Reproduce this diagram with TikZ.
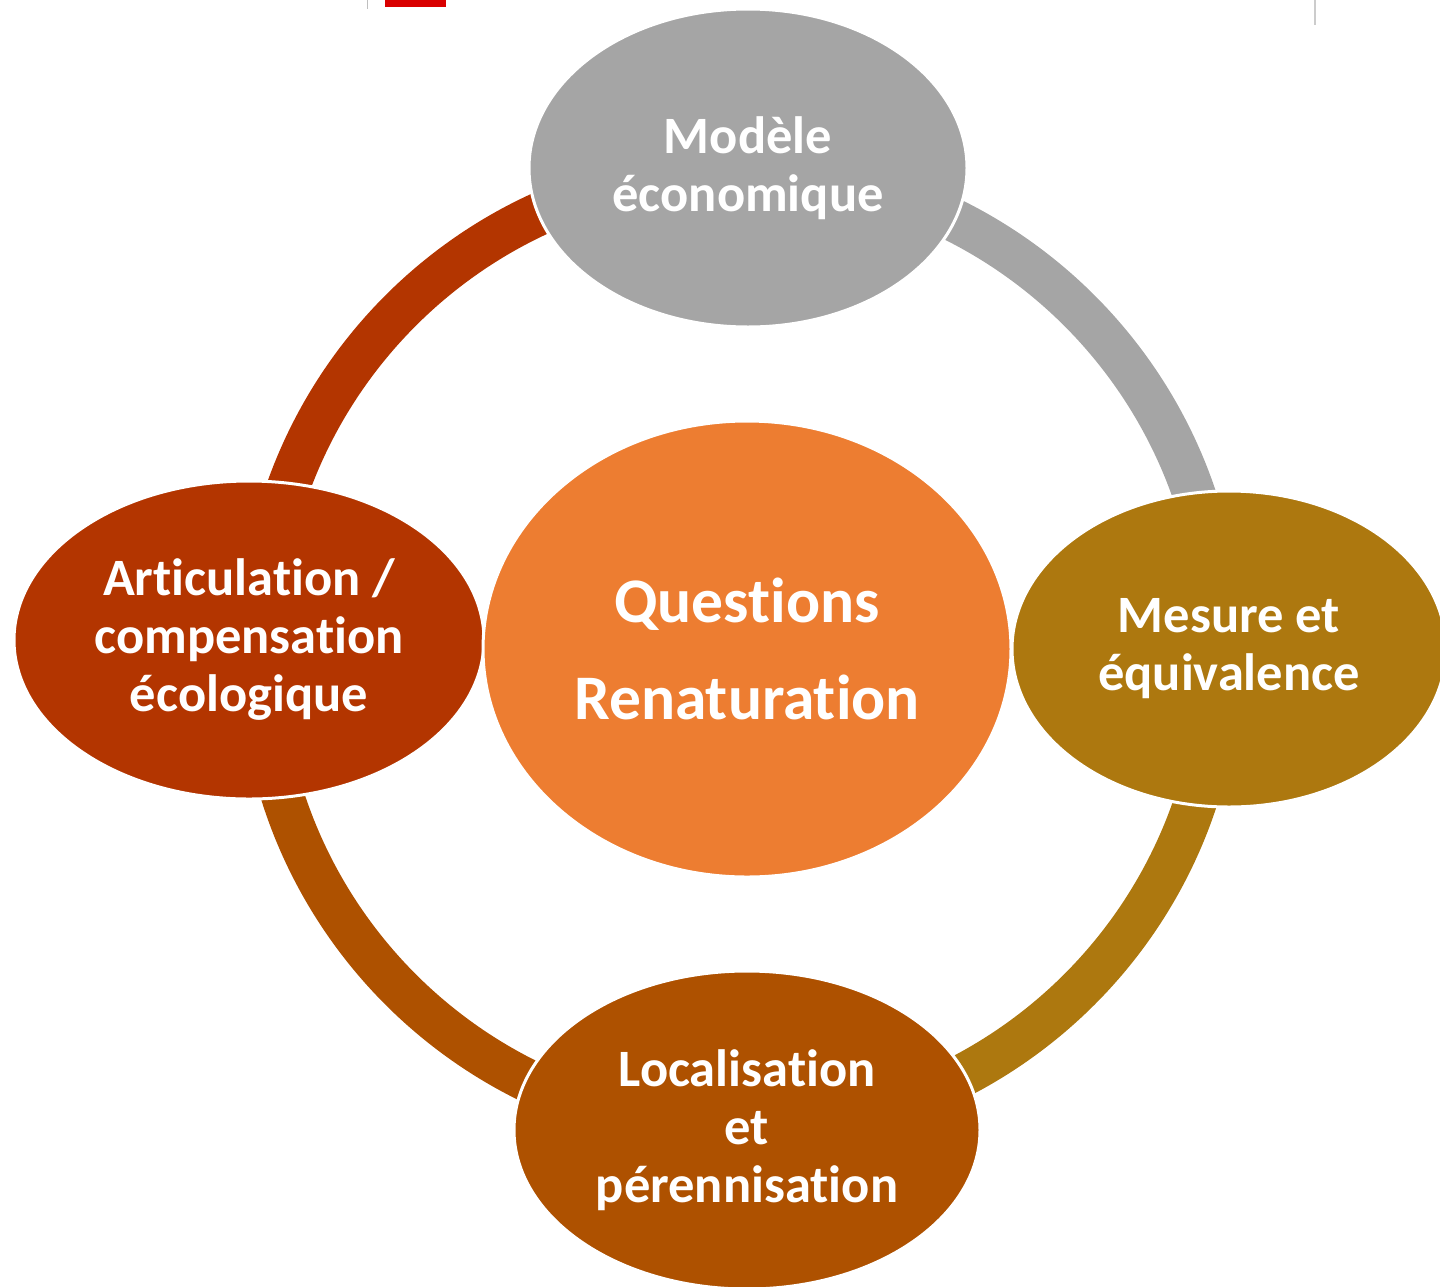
\documentclass[tikz,border=0pt]{standalone}
\usepackage{fontspec}
\setmainfont{Carlito}[Ligatures=NoCommon]
\usetikzlibrary{shapes.geometric}
\definecolor{cgrey}{HTML}{A5A5A5}
\definecolor{corange}{HTML}{ED7D31}
\definecolor{cred}{HTML}{B33500}
\definecolor{cgold}{HTML}{AD780F}
\definecolor{cbrown}{HTML}{AE5100}
\tikzset{
  bubble/.style={ellipse, draw=white, line width=3pt, inner sep=0pt, text=white,
    align=center, font=\bfseries\fontsize{52.5}{58}\selectfont},
  ring/.style={line width=43pt, line cap=butt},
}
\begin{document}
\begin{tikzpicture}[x=1pt,y=-1pt]
\useasboundingbox (0,0) rectangle (1440,1286);
\begin{scope}
\clip (0,0) rectangle (1440,1286);
% logo remnants at top
\fill[red!85!black] (385,0) rectangle (446,7);
\fill[black!25] (366.5,0) rectangle (368,9);
\fill[black!20] (1314,0) rectangle (1316,25);
% ring
\coordinate (c) at (740,650);
\draw[ring, cred]   (260,650) arc[start angle=180, end angle=270, radius=480];
\draw[ring, cgrey]  (740,170) arc[start angle=270, end angle=360, radius=480];
\draw[ring, cgold]  (1220,650) arc[start angle=0, end angle=90, radius=480];
\draw[ring, cbrown] (740,1130) arc[start angle=90, end angle=180, radius=480];
% bubbles
\node[bubble, fill=cgrey, minimum width=438pt, minimum height=318pt] (top) at (748,168) {Modèle\\économique};
\node[bubble, fill=cgold, minimum width=434pt, minimum height=316pt] (right) at (1229,649) {Mesure et\\équivalence};
\node[bubble, fill=cbrown, minimum width=466pt, minimum height=318pt] (bottom) at (747,1130) {Localisation\\et\\pérennisation};
\node[bubble, fill=cred, minimum width=470pt, minimum height=318pt] (left) at (249,640) {Articulation /\\compensation\\écologique};
\node[bubble, fill=corange, minimum width=528pt, minimum height=456pt,
  font=\bfseries\fontsize{63.5}{97}\selectfont] (center) at (747,649) {Questions\\Renaturation};
\end{scope}
\end{tikzpicture}
\end{document}
